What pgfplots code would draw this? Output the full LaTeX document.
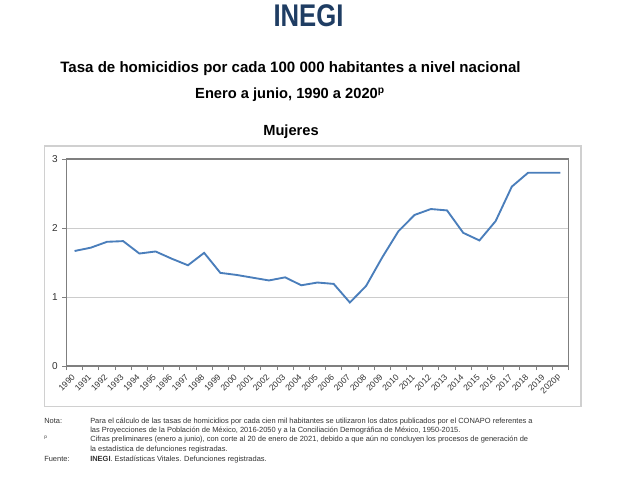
\documentclass[border=0pt]{standalone}
\usepackage{pgfplots}
\pgfplotsset{compat=1.18}
\usepackage{fontspec}
\setmainfont{Liberation Sans}
\definecolor{lineblue}{HTML}{4A7EBB}
\definecolor{inegi}{HTML}{1F3D63}
\definecolor{frame}{HTML}{D0D0D0}
\definecolor{axisgray}{HTML}{7F7F7F}
\definecolor{notegray}{HTML}{333333}
\begin{document}
\begin{tikzpicture}
\useasboundingbox (0,0) rectangle (480pt,-360pt);
\begin{scope}[x=0.75pt,y=-0.75pt]
\fill[white] (0,0) rectangle (640,480);
\draw[frame, line width=0.8pt] (44.7,146) rectangle (581,406.7);
\node[inegi, font=\fontsize{23.5}{24}\selectfont\bfseries, xscale=0.82] at (308.5,15.5) {INEGI};
\node[font=\fontsize{11.3}{12}\selectfont\bfseries] at (290.5,69) {Tasa de homicidios por cada 100 000 habitantes a nivel nacional};
\node[font=\fontsize{11}{12}\selectfont\bfseries] at (290,95) {Enero a junio, 1990 a 2020\textsuperscript{p}};
\node[font=\fontsize{11}{12}\selectfont\bfseries] at (291,132) {Mujeres};
\begin{scope}[font=\fontsize{5.6}{6}\selectfont, notegray]
\node[anchor=base west, inner sep=0pt] at (44,423) {Nota:};
\node[anchor=base west, inner sep=0pt] at (90,423) {Para el cálculo de las tasas de homicidios por cada cien mil habitantes se utilizaron los datos publicados por el CONAPO referentes a};
\node[anchor=base west, inner sep=0pt] at (90,432) {las Proyecciones de la Población de México, 2016-2050 y a la Conciliación Demográfica de México, 1950-2015.};
\node[anchor=base west, inner sep=0pt] at (44,438.5) {\fontsize{3.5}{4}\selectfont p};
\node[anchor=base west, inner sep=0pt] at (90,441.5) {Cifras preliminares (enero a junio), con corte al 20 de enero de 2021, debido a que aún no concluyen los procesos de generación de};
\node[anchor=base west, inner sep=0pt] at (90,451) {la estadística de defunciones registradas.};
\node[anchor=base west, inner sep=0pt] at (44,461.5) {Fuente:};
\node[anchor=base west, inner sep=0pt] at (90,461.5) {\textbf{INEGI}. Estadísticas Vitales. Defunciones registradas.};
\end{scope}
\end{scope}
\begin{axis}[
  scale only axis,
  width=376.5pt, height=155.25pt,
  anchor=south west, at={(49.875pt,-274.5pt)},
  xmin=-0.5, xmax=30.5, ymin=0, ymax=3,
  ytick={0,1,2,3},
  xtick={0,...,30},
  xticklabels={1990,1991,1992,1993,1994,1995,1996,1997,1998,1999,2000,2001,2002,2003,2004,2005,2006,2007,2008,2009,2010,2011,2012,2013,2014,2015,2016,2017,2018,2019,2020p},
  minor xtick={-0.5,0.5,...,30.5},
  xtick pos=bottom, ytick pos=left,
  tick align=outside,
  major tick length=3pt,
  minor tick length=3pt,
  major x tick style={draw=none},
  minor x tick style={axisgray, line width=0.7pt},
  major y tick style={axisgray, line width=0.7pt},
  ymajorgrids,
  grid style={gray!40, line width=0.6pt},
  axis line style={axisgray, line width=1.1pt},
  x tick label style={font=\fontsize{6.4}{6.4}\selectfont, rotate=45, anchor=east, inner sep=1pt, xshift=-2.5pt, yshift=-2.5pt, text=notegray},
  y tick label style={font=\fontsize{7.5}{8}\selectfont, text=notegray},
  /pgf/number format/assume math mode=true,
]
\addplot[lineblue, line width=1.4pt, mark=none] coordinates {
(0,1.667) (1,1.715) (2,1.80) (3,1.81) (4,1.63) (5,1.66) (6,1.555) (7,1.46) (8,1.64) (9,1.35)
(10,1.32) (11,1.28) (12,1.24) (13,1.285) (14,1.17) (15,1.21) (16,1.19) (17,0.92) (18,1.16) (19,1.575)
(20,1.955) (21,2.19) (22,2.275) (23,2.255) (24,1.93) (25,1.82) (26,2.10) (27,2.60) (28,2.80) (29,2.80) (30,2.80)
};
\end{axis}
\end{tikzpicture}
\end{document}
